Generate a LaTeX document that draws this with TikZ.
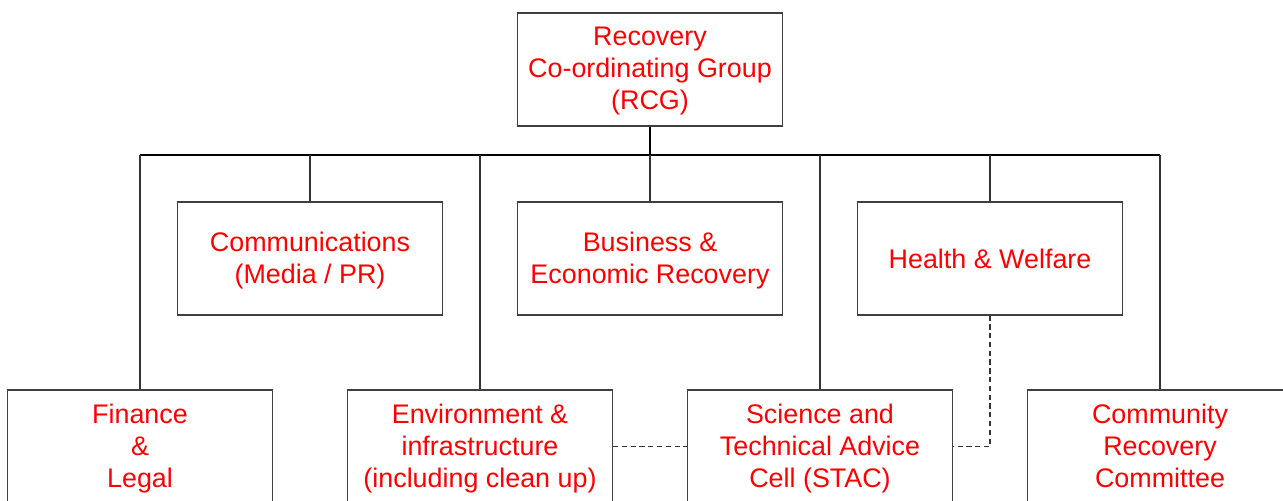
\documentclass[tikz,border=0pt]{standalone}
\usepackage{fontspec}
\setmainfont{Liberation Sans}
\usepackage{tikz}

\begin{document}
\begin{tikzpicture}[x=0.02cm, y=-0.02cm,
		main node/.style={rectangle,draw=black!75,line width=0.6pt,
			minimum width=5.3cm,minimum height=2.26cm,inner sep=0pt,
			align=center,text=red,text depth=0.9pt,
			font=\fontsize{15.3}{18.2}\selectfont,
			execute at begin node=\strut},
		link/.style={draw=black!80,line width=0.6pt},
		soft link/.style={link,dashed,dash pattern=on 3pt off 2pt}]
		\useasboundingbox (0,0) rectangle (1283,500);
		
		\node[main node] (RCG) at (650,69.5) {Recovery\\Co-ordinating Group\\(RCG)};
		
		\node[main node] (Comm) at (310,258.5) {Communications\\(Media / PR)};
		\node[main node] (Bus) at (650,258.5) {Business \&\\Economic Recovery};
		\node[main node] (Health) at (990,258.5) {Health \& Welfare};
		
		\node[main node] (Fin) at (140,446.5) {Finance\\\&\\Legal};
		\node[main node] (Env) at (480,446.5) {Environment \&\\infrastructure\\(including clean up)};
		\node[main node] (STAC) at (820,446.5) {Science and\\Technical Advice\\Cell (STAC)};
		\node[main node] (Comty) at (1160,446.5) {Community\\Recovery\\Committee};
		
		% distribution bar under the RCG
		\coordinate (barL) at (140,155);
		\coordinate (barR) at (1160,155);
		\draw[black,line width=1.1pt] (RCG.south) -- (RCG.south |- barL);
		\draw[black,line width=1.1pt] (barL) -- (barR);
		
		\path[link]
		(Comm.north) -- (Comm.north |- barL)
		(Bus.north) -- (Bus.north |- barL)
		(Health.north) -- (Health.north |- barL)
		(Fin.north) -- (Fin.north |- barL)
		(Env.north) -- (Env.north |- barL)
		(STAC.north) -- (STAC.north |- barL)
		(Comty.north) -- (Comty.north |- barL);
		
		% advisory links
		\draw[soft link] (Env.east) -- (STAC.west);
		\draw[soft link] (Health.south) |- (STAC.east);
		\end{tikzpicture}
\end{document}
